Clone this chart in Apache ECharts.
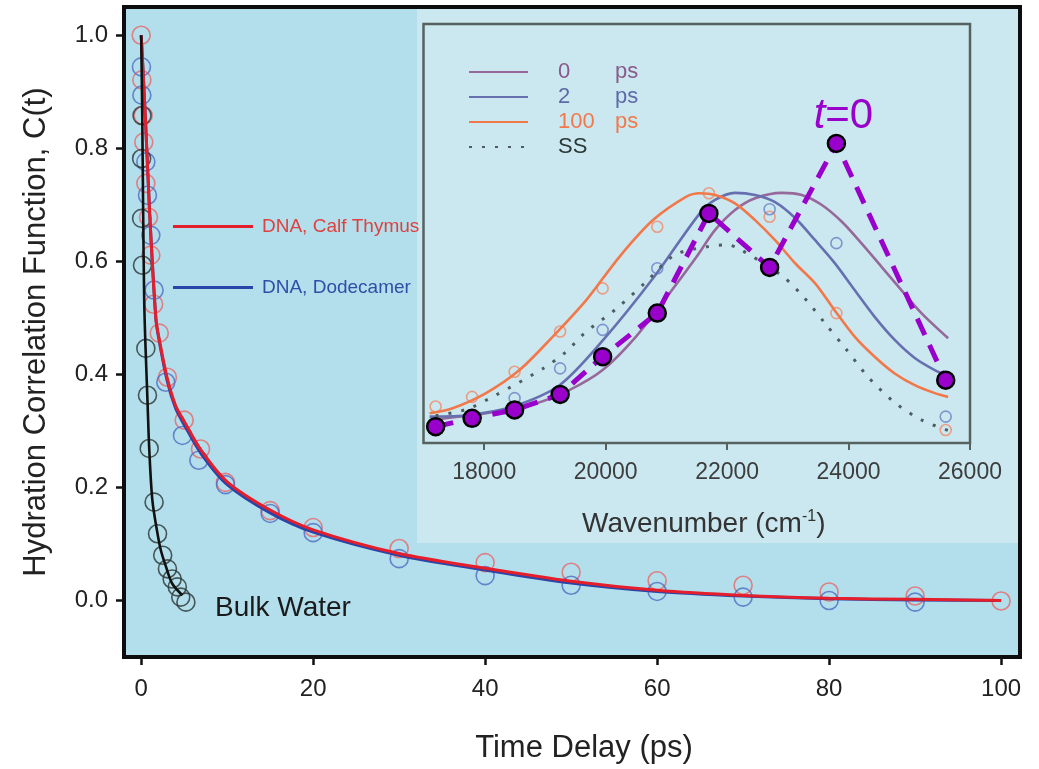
<!DOCTYPE html>
<html>
<head>
<meta charset="utf-8">
<script src="https://cdn.jsdelivr.net/npm/echarts@6.0.0/dist/echarts.min.js"></script>
<style>
  html, body { margin: 0; padding: 0; background: #fff; }
  #chart { width: 1039px; height: 769px; }
</style>
</head>
<body>
<div id="chart"></div>
<script>
// main panel: hydration correlation function vs time delay (ps)
const xTicks = [0, 20, 40, 60, 80, 100];
const yTicks = [0, 0.2, 0.4, 0.6, 0.8, 1.0];

const calfT = [0, 0.08, 0.23, 0.3, 0.54, 0.85, 1.12, 1.45, 2.1, 3.05, 5.0, 6.9, 9.8, 15, 20, 30, 40, 50, 60, 70, 80, 90, 100];
const calfC = [1.0, 0.921, 0.858, 0.811, 0.738, 0.678, 0.611, 0.524, 0.473, 0.395, 0.319, 0.268, 0.209, 0.159, 0.129, 0.092, 0.067, 0.050, 0.035, 0.027, 0.015, 0.008, -0.001];

const dodecT = [0.03, 0.08, 0.54, 0.73, 1.12, 1.5, 2.86, 4.8, 6.7, 9.8, 15, 20, 30, 40, 50, 60, 70, 80, 90];
const dodecC = [0.944, 0.894, 0.776, 0.717, 0.646, 0.549, 0.386, 0.292, 0.248, 0.205, 0.154, 0.120, 0.074, 0.044, 0.027, 0.016, 0.006, 0.0, -0.003];

const bulkT = [0.1, 0.05, 0.05, 0.15, 0.54, 0.73, 0.93, 1.5, 1.9, 2.5, 3.05, 3.6, 4.2, 4.6, 5.2];
const bulkC = [0.858, 0.782, 0.676, 0.593, 0.446, 0.363, 0.269, 0.174, 0.118, 0.080, 0.056, 0.038, 0.024, 0.006, -0.003];

const fitT = [0, 0.5, 1.0, 1.7, 2.0, 3, 4, 5, 7, 10, 15, 20, 30, 40, 50, 60, 70, 80, 90, 100];
const calfFit = [1.0, 0.85, 0.68, 0.50, 0.47, 0.395, 0.345, 0.317, 0.265, 0.21, 0.16, 0.125, 0.083, 0.057, 0.034, 0.018, 0.009, 0.004, 0.002, 0.0];
const dodecFit = [1.0, 0.85, 0.68, 0.50, 0.467, 0.39, 0.34, 0.311, 0.259, 0.205, 0.155, 0.121, 0.080, 0.054, 0.031, 0.016, 0.008, 0.003, 0.001, 0.0];

const bulkFitT = [0, 0.12, 0.22, 0.35, 0.5, 0.73, 0.93, 1.3, 1.9, 2.3, 2.9, 3.6, 4.8];
const bulkFit = [1.0, 0.86, 0.70, 0.53, 0.45, 0.354, 0.27, 0.177, 0.118, 0.088, 0.059, 0.03, 0.009];

// inset: emission spectra vs wavenumber (arbitrary intensity)
const wnTicks = [18000, 20000, 22000, 24000, 26000];
const wn = [17200, 17800, 18500, 19250, 19950, 20850, 21700, 22700, 23800, 25600];
const t0Pts = [0.039, 0.059, 0.079, 0.116, 0.206, 0.310, 0.548, 0.419, 0.715, 0.150];
const ps100Pts = [0.087, 0.110, 0.170, 0.266, 0.369, 0.516, 0.596, 0.540, 0.310, 0.031];
const ps2Pts = [null, null, 0.107, 0.178, 0.270, 0.417, null, 0.558, 0.477, 0.063];

const ps100X = [17100, 17480, 18030, 18580, 19130, 19680, 20230, 20780, 21330, 21550, 21800, 22130, 22460, 22790, 23120, 23450, 23770, 24100, 24430, 24760, 25090, 25420, 25640];
const ps100Y = [0.071, 0.083, 0.119, 0.174, 0.254, 0.341, 0.445, 0.532, 0.588, 0.596, 0.592, 0.572, 0.532, 0.484, 0.429, 0.381, 0.317, 0.254, 0.206, 0.166, 0.138, 0.119, 0.110];

const ps2X = [17100, 17760, 18470, 19240, 19960, 20780, 21550, 21800, 22130, 22460, 22790, 23120, 23450, 23770, 24100, 24430, 24760, 25090, 25420, 25640];
const ps2Y = [0.063, 0.067, 0.087, 0.138, 0.246, 0.393, 0.548, 0.580, 0.597, 0.592, 0.575, 0.537, 0.484, 0.430, 0.365, 0.301, 0.246, 0.203, 0.174, 0.160];

const ps0X = [17100, 18030, 18860, 19400, 19950, 20500, 21050, 21500, 21800, 22130, 22460, 22900, 23230, 23560, 23890, 24210, 24540, 24870, 25200, 25640];
const ps0Y = [0.055, 0.071, 0.095, 0.126, 0.174, 0.254, 0.357, 0.445, 0.508, 0.556, 0.584, 0.597, 0.592, 0.568, 0.528, 0.477, 0.421, 0.365, 0.310, 0.250];

const ssX = [17200, 17700, 18200, 18970, 19350, 19650, 20180, 20670, 21140, 21690, 21990, 22180, 22920, 23280, 23610, 23970, 24320, 24740, 25200, 25700];
const ssY = [0.065, 0.08, 0.115, 0.178, 0.218, 0.262, 0.321, 0.385, 0.449, 0.469, 0.473, 0.465, 0.397, 0.345, 0.286, 0.222, 0.158, 0.099, 0.055, 0.027];

const FONT = 'Liberation Sans, Arial, sans-serif';

function zip(xs, ys) {
  return xs.map((x, i) => [x, ys[i]]);
}

function hollow(name, xs, ys, color, size, xi) {
  return {
    name: name,
    type: 'scatter',
    xAxisIndex: xi,
    yAxisIndex: xi,
    symbol: 'circle',
    symbolSize: size,
    itemStyle: { color: 'rgba(0,0,0,0)', borderColor: color, borderWidth: 1.6 },
    data: zip(xs, ys).filter(d => d[1] != null),
    z: 2
  };
}

function curve(name, xs, ys, color, width, xi, z) {
  return {
    name: name,
    type: 'line',
    xAxisIndex: xi,
    yAxisIndex: xi,
    smooth: 0.3,
    symbol: 'none',
    lineStyle: { color: color, width: width },
    itemStyle: { color: color },
    data: zip(xs, ys),
    z: z
  };
}

const chart = echarts.init(document.getElementById('chart'), null, { renderer: 'canvas' });

const t0Data = zip(wn, t0Pts).map((d, i) => {
  if (i !== 8) return d;
  return {
    value: d,
    label: {
      show: true,
      position: 'top',
      distance: 0,
      offset: [7, 4],
      formatter: '{i|t}{r|=0}',
      rich: {
        i: { fontStyle: 'italic', fontSize: 42, color: '#9900cc', fontFamily: FONT },
        r: { fontSize: 42, color: '#9900cc', fontFamily: FONT }
      }
    }
  };
});

const option = {
  backgroundColor: '#ffffff',
  animation: false,
  graphic: [
    { type: 'rect', shape: { x: 124, y: 7, width: 896, height: 651 }, style: { fill: '#b2dfeb' }, z: -2, silent: true },
    { type: 'rect', shape: { x: 417, y: 9, width: 602, height: 534 }, style: { fill: '#cbe8f0' }, z: -1, silent: true },
    {
      type: 'text', left: 215, top: 594, silent: true,
      style: { text: 'Bulk Water', fontSize: 28, fontFamily: FONT, fill: '#1a1a1a' }
    }
  ],
  grid: [
    { left: 124, right: 19, top: 7, bottom: 111, show: true, backgroundColor: 'rgba(0,0,0,0)', borderColor: '#0d0d0d', borderWidth: 4 },
    { left: 423.5, right: 69, top: 24, bottom: 326, show: true, backgroundColor: 'rgba(0,0,0,0)', borderColor: '#55625f', borderWidth: 2.5 }
  ],
  legend: [
    {
      left: 173, top: 217, orient: 'vertical', padding: 0,
      icon: 'rect', itemWidth: 80, itemHeight: 3, itemGap: 42,
      selectedMode: false,
      textStyle: { fontSize: 19, fontFamily: FONT, padding: [0, 0, 0, 4] },
      data: [
        { name: 'DNA, Calf Thymus', textStyle: { color: '#e0403f' } },
        { name: 'DNA, Dodecamer', textStyle: { color: '#2d4fa8' } }
      ]
    },
    {
      left: 468, top: 61, orient: 'vertical', padding: 0,
      itemWidth: 59, itemHeight: 14, itemGap: 3,
      selectedMode: false,
      itemStyle: { opacity: 0 },
      textStyle: {
        fontSize: 22, fontFamily: FONT, padding: [0, 0, 0, 25],
        rich: { n: { width: 57, fontSize: 22 }, u: { fontSize: 22 } }
      },
      formatter: function (name) {
        if (name === 'SS') return 'SS';
        const parts = name.split(' ');
        return '{n|' + parts[0] + '}{u|' + parts[1] + '}';
      },
      data: [
        { name: '0 ps', textStyle: { color: '#8a5a8c' } },
        { name: '2 ps', textStyle: { color: '#5f6aa8' } },
        { name: '100 ps', textStyle: { color: '#f07a4c' } },
        { name: 'SS', textStyle: { color: '#2c3838' } }
      ]
    }
  ],
  xAxis: [
    {
      type: 'value', gridIndex: 0, min: -2, max: 102.2,
      name: 'Time Delay (ps)', nameLocation: 'middle', nameGap: 76,
      nameTextStyle: { fontSize: 31, fontFamily: FONT, color: '#222', padding: [0, 0, 0, 24] },
      axisLine: { show: false, onZero: false },
      axisTick: { show: true, inside: false, length: 8, customValues: xTicks, lineStyle: { color: '#111', width: 2.5 } },
      axisLabel: { customValues: xTicks, fontSize: 24, fontFamily: FONT, color: '#222', margin: 20 },
      splitLine: { show: false }
    },
    {
      type: 'value', gridIndex: 1, min: 17000, max: 26000,
      name: 'Wavenumber (cm{sup|-1})', nameLocation: 'middle', nameGap: 66,
      nameTextStyle: {
        fontSize: 28, fontFamily: FONT, color: '#333', padding: [0, 0, 0, 14],
        rich: { sup: { fontSize: 16, fontFamily: FONT, color: '#333', padding: [0, 0, 14, 0] } }
      },
      axisLine: { show: false, onZero: false },
      axisTick: { show: true, inside: false, length: 7, customValues: wnTicks, lineStyle: { color: '#55625f', width: 2 } },
      axisLabel: { customValues: wnTicks, fontSize: 23, fontFamily: FONT, color: '#3d3d3d', margin: 18, formatter: v => String(v) },
      splitLine: { show: false }
    }
  ],
  yAxis: [
    {
      type: 'value', gridIndex: 0, min: -0.1, max: 1.05,
      name: 'Hydration Correlation Function, C(t)', nameLocation: 'middle', nameGap: 72,
      nameTextStyle: { fontSize: 31, fontFamily: FONT, color: '#222' },
      axisLine: { show: false, onZero: false },
      axisTick: { show: true, inside: false, length: 8, customValues: yTicks, lineStyle: { color: '#111', width: 2.5 } },
      axisLabel: {
        customValues: yTicks, fontSize: 24, fontFamily: FONT, color: '#222', margin: 16,
        formatter: v => v.toFixed(1)
      },
      splitLine: { show: false }
    },
    {
      type: 'value', gridIndex: 1, min: 0, max: 1,
      axisLine: { show: false, onZero: false }, axisTick: { show: false }, axisLabel: { show: false },
      splitLine: { show: false }
    }
  ],
  series: [
    hollow('calf pts', calfT, calfC, '#e8676a', 18, 0),
    hollow('dodec pts', dodecT, dodecC, '#4f6cc4', 18, 0),
    hollow('bulk pts', bulkT, bulkC, '#2a3434', 18, 0),
    curve('DNA, Dodecamer', fitT, dodecFit, '#2a45a8', 3, 0, 3),
    curve('DNA, Calf Thymus', fitT, calfFit, '#e41e2b', 3, 0, 4),
    curve('bulk fit', bulkFitT, bulkFit, '#111111', 2.6, 0, 4),

    hollow('100 ps pts', wn, ps100Pts, '#f08a6a', 11, 1),
    hollow('2 ps pts', wn, ps2Pts, '#6a80c6', 11, 1),
    curve('0 ps', ps0X, ps0Y, '#97699a', 2.6, 1, 3),
    curve('2 ps', ps2X, ps2Y, '#6670b0', 2.6, 1, 3),
    curve('100 ps', ps100X, ps100Y, '#f2784a', 2.6, 1, 3),
    {
      name: 'SS',
      type: 'line',
      xAxisIndex: 1, yAxisIndex: 1,
      smooth: 0.3,
      symbol: 'none',
      lineStyle: { color: '#4d5d62', width: 3, type: [3, 10] },
      itemStyle: { color: '#4d5d62' },
      data: zip(ssX, ssY),
      z: 3
    },
    {
      name: 't=0',
      type: 'line',
      xAxisIndex: 1, yAxisIndex: 1,
      symbol: 'circle',
      symbolSize: 17,
      showAllSymbol: true,
      lineStyle: { color: '#9900cc', width: 5, type: [18, 11] },
      itemStyle: { color: '#9900cc', borderColor: '#000', borderWidth: 2.5 },
      data: t0Data,
      z: 6
    }
  ]
};

chart.setOption(option);
</script>
</body>
</html>
